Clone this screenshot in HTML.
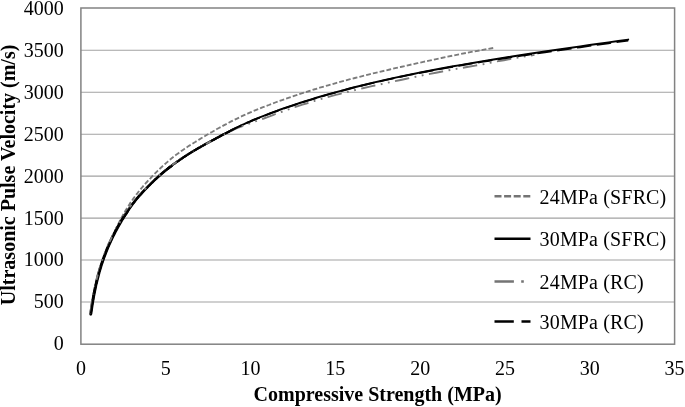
<!DOCTYPE html>
<html><head><meta charset="utf-8"><title>Ultrasonic Pulse Velocity vs Compressive Strength</title>
<style>
html,body{margin:0;padding:0;background:#fff}
svg{display:block}
text{font-family:"Liberation Serif","Times New Roman",serif;font-size:20px;fill:#000}
.b{font-weight:bold}
.lg text{letter-spacing:0.15px}
</style></head><body>
<svg width="685" height="407" viewBox="0 0 685 407">
<rect width="685" height="407" fill="#fff"/>
<g stroke="#a2a2a2" stroke-width="1.08" fill="none"><line x1="80.9" x2="674.6" y1="50.30" y2="50.30"/><line x1="80.9" x2="674.6" y1="92.25" y2="92.25"/><line x1="80.9" x2="674.6" y1="134.20" y2="134.20"/><line x1="80.9" x2="674.6" y1="176.15" y2="176.15"/><line x1="80.9" x2="674.6" y1="218.10" y2="218.10"/><line x1="80.9" x2="674.6" y1="260.05" y2="260.05"/><line x1="80.9" x2="674.6" y1="302.00" y2="302.00"/></g>
<rect x="80.9" y="8.0" width="593.7" height="336.2" fill="none" stroke="#828282" stroke-width="1.5"/>
<g fill="none" stroke-linejoin="round">
<path d="M90.6,315.8 L90.8,314.2 L91.0,312.7 L91.2,311.1 L91.3,309.6 L91.5,308.2 L91.7,306.7 L91.9,305.3 L92.1,303.9 L92.3,302.5 L92.5,301.2 L92.7,299.8 L92.9,298.5 L93.1,297.2 L93.3,296.0 L93.5,294.7 L93.7,293.5 L93.9,292.3 L94.1,291.1 L94.4,289.9 L94.6,288.7 L94.8,287.6 L95.1,286.5 L95.3,285.4 L95.6,284.2 L95.8,283.2 L96.1,282.1 L96.3,281.0 L96.6,280.0 L96.9,278.9 L97.1,277.9 L97.4,276.8 L97.7,275.8 L98.0,274.8 L98.3,273.8 L98.6,272.8 L98.9,271.8 L99.2,270.8 L99.5,269.8 L99.8,268.8 L100.2,267.8 L100.5,266.8 L100.8,265.8 L101.2,264.8 L101.5,263.8 L101.9,262.8 L102.2,261.8 L102.6,260.8 L103.0,259.8 L103.4,258.8 L103.8,257.7 L104.1,256.7 L104.6,255.7 L105.0,254.6 L105.4,253.6 L105.8,252.5 L106.2,251.4 L106.7,250.3 L107.1,249.3 L107.6,248.1 L108.0,247.0 L108.5,245.9 L109.0,244.7 L109.4,243.6 L109.9,242.4 L110.4,241.2 L110.9,240.0 L111.5,238.8 L112.0,237.6 L112.5,236.3 L113.1,235.1 L113.6,233.9 L114.2,232.6 L114.8,231.3 L115.3,230.1 L115.9,228.8 L116.5,227.5 L117.2,226.3 L117.8,225.0 L118.4,223.7 L119.1,222.4 L119.7,221.1 L120.4,219.8 L121.1,218.5 L121.8,217.2 L122.5,215.9 L123.2,214.6 L123.9,213.3 L124.7,212.1 L125.4,210.8 L126.2,209.5 L127.0,208.2 L127.8,206.9 L128.6,205.7 L129.4,204.4 L130.2,203.1 L131.1,201.8 L132.0,200.6 L132.9,199.3 L133.7,198.1 L134.7,196.8 L135.6,195.6 L136.5,194.3 L137.5,193.1 L138.5,191.8 L139.5,190.6 L140.5,189.4 L141.5,188.1 L142.6,186.9 L143.6,185.7 L144.7,184.4 L145.8,183.2 L146.9,182.0 L148.1,180.7 L149.2,179.5 L150.4,178.3 L151.6,177.0 L152.8,175.7 L154.1,174.5 L155.3,173.2 L156.6,171.9 L157.9,170.6 L159.3,169.3 L160.6,168.0 L162.0,166.7 L163.4,165.5 L164.8,164.2 L166.3,162.9 L167.8,161.6 L169.3,160.3 L170.8,159.0 L172.3,157.8 L173.9,156.5 L175.5,155.3 L177.2,154.1 L178.8,152.9 L180.5,151.6 L182.2,150.4 L184.0,149.2 L185.8,148.0 L187.6,146.8 L189.4,145.6 L191.3,144.4 L193.2,143.2 L195.2,142.0 L197.1,140.8 L199.1,139.6 L201.2,138.3 L203.3,137.1 L205.4,135.8 L207.5,134.5 L209.7,133.2 L212.0,132.0 L214.2,130.7 L216.5,129.3 L218.9,128.0 L221.3,126.7 L223.7,125.4 L226.2,124.1 L228.7,122.7 L231.2,121.4 L233.8,120.1 L236.5,118.8 L239.2,117.5 L241.9,116.2 L244.7,114.9 L247.5,113.7 L250.4,112.4 L253.3,111.1 L256.3,109.9 L259.3,108.7 L262.4,107.4 L265.6,106.2 L268.8,105.0 L272.0,103.7 L275.3,102.5 L278.7,101.3 L282.1,100.1 L285.6,98.8 L289.1,97.6 L292.7,96.4 L296.4,95.2 L300.1,93.9 L303.9,92.7 L307.8,91.5 L311.7,90.2 L315.7,89.0 L319.7,87.7 L323.9,86.5 L328.1,85.3 L332.4,84.1 L336.7,82.8 L341.1,81.6 L345.6,80.4 L350.2,79.2 L354.9,78.0 L359.6,76.8 L364.4,75.6 L369.3,74.3 L374.3,73.1 L379.4,71.9 L384.6,70.7 L389.8,69.5 L395.2,68.2 L400.6,67.0 L406.1,65.7 L411.8,64.4 L417.5,63.2 L423.3,61.9 L429.2,60.6 L435.2,59.3 L441.4,58.0 L447.6,56.7 L454.0,55.4 L460.4,54.1 L467.0,52.8 L473.7,51.5 L480.5,50.3 L487.4,49.0 L494.4,47.8" stroke="#7b7b7b" stroke-width="1.85" stroke-dasharray="4.85 2.1" stroke-dashoffset="1.21"/>
<path d="M90.8,313.7 L91.0,312.4 L91.2,311.0 L91.4,309.7 L91.6,308.4 L91.8,307.0 L92.0,305.7 L92.2,304.4 L92.4,303.1 L92.6,301.8 L92.8,300.6 L93.1,299.3 L93.3,298.0 L93.5,296.8 L93.7,295.5 L94.0,294.2 L94.2,293.0 L94.5,291.8 L94.7,290.5 L95.0,289.3 L95.2,288.1 L95.5,286.8 L95.7,285.6 L96.0,284.4 L96.3,283.2 L96.6,282.0 L96.9,280.8 L97.2,279.6 L97.5,278.4 L97.8,277.2 L98.1,276.0 L98.4,274.8 L98.7,273.7 L99.0,272.5 L99.4,271.3 L99.7,270.1 L100.1,269.0 L100.4,267.8 L100.8,266.6 L101.1,265.5 L101.5,264.3 L101.9,263.1 L102.3,262.0 L102.7,260.8 L103.1,259.6 L103.5,258.5 L103.9,257.3 L104.3,256.2 L104.8,255.0 L105.2,253.9 L105.6,252.7 L106.1,251.5 L106.6,250.4 L107.0,249.2 L107.5,248.0 L108.0,246.9 L108.5,245.7 L109.0,244.6 L109.5,243.4 L110.1,242.2 L110.6,241.0 L111.2,239.9 L111.7,238.7 L112.3,237.5 L112.9,236.3 L113.5,235.1 L114.1,234.0 L114.7,232.8 L115.3,231.6 L115.9,230.4 L116.6,229.2 L117.2,228.0 L117.9,226.8 L118.6,225.5 L119.3,224.3 L120.0,223.1 L120.7,221.9 L121.4,220.6 L122.2,219.4 L123.0,218.2 L123.7,216.9 L124.5,215.7 L125.3,214.4 L126.2,213.2 L127.0,211.9 L127.8,210.6 L128.7,209.4 L129.6,208.1 L130.5,206.8 L131.4,205.6 L132.3,204.3 L133.3,203.1 L134.3,201.8 L135.2,200.6 L136.2,199.3 L137.3,198.1 L138.3,196.8 L139.4,195.6 L140.5,194.4 L141.6,193.2 L142.7,192.0 L143.8,190.8 L145.0,189.5 L146.2,188.3 L147.4,187.1 L148.6,185.8 L149.9,184.6 L151.1,183.3 L152.4,182.1 L153.7,180.8 L155.1,179.5 L156.5,178.3 L157.9,177.0 L159.3,175.7 L160.7,174.4 L162.2,173.2 L163.7,171.9 L165.2,170.6 L166.8,169.4 L168.4,168.1 L170.0,166.9 L171.7,165.6 L173.3,164.3 L175.0,163.1 L176.8,161.8 L178.6,160.6 L180.4,159.3 L182.2,158.1 L184.1,156.8 L186.0,155.6 L187.9,154.3 L189.9,153.1 L191.9,151.9 L194.0,150.6 L196.1,149.4 L198.2,148.2 L200.4,146.9 L202.6,145.7 L204.8,144.4 L207.1,143.1 L209.5,141.9 L211.8,140.6 L214.3,139.3 L216.7,137.9 L219.2,136.6 L221.8,135.2 L224.4,133.9 L227.1,132.5 L229.8,131.1 L232.5,129.6 L235.3,128.2 L238.2,126.8 L241.1,125.5 L244.1,124.1 L247.1,122.7 L250.2,121.4 L253.3,120.0 L256.5,118.7 L259.7,117.4 L263.0,116.1 L266.4,114.8 L269.8,113.5 L273.3,112.2 L276.9,110.9 L280.5,109.5 L284.2,108.2 L288.0,106.9 L291.8,105.6 L295.7,104.3 L299.7,103.0 L303.7,101.7 L307.9,100.4 L312.1,99.1 L316.3,97.8 L320.7,96.5 L325.1,95.2 L329.6,93.9 L334.2,92.7 L338.9,91.4 L343.7,90.1 L348.6,88.8 L353.5,87.5 L358.6,86.2 L363.7,85.0 L368.9,83.7 L374.3,82.4 L379.7,81.2 L385.2,79.9 L390.9,78.7 L396.6,77.4 L402.4,76.2 L408.4,74.9 L414.5,73.7 L420.6,72.4 L426.9,71.2 L433.3,70.0 L439.8,68.8 L446.5,67.5 L453.3,66.3 L460.2,65.1 L467.2,63.9 L474.3,62.7 L481.6,61.4 L489.0,60.2 L496.6,59.0 L504.3,57.8 L512.1,56.5 L520.1,55.3 L528.2,54.0 L536.5,52.8 L544.9,51.5 L553.5,50.2 L562.3,49.0 L571.2,47.7 L580.2,46.4 L589.5,45.0 L598.9,43.7 L608.5,42.4 L618.3,41.0 L628.2,39.6" stroke="#000" stroke-width="1.95" stroke-linecap="round"/>
<path d="M90.8,313.8 L91.0,312.5 L91.2,311.1 L91.4,309.8 L91.6,308.5 L91.8,307.1 L92.0,305.8 L92.2,304.5 L92.4,303.2 L92.6,301.9 L92.8,300.7 L93.1,299.4 L93.3,298.1 L93.5,296.9 L93.7,295.6 L94.0,294.3 L94.2,293.1 L94.5,291.9 L94.7,290.6 L95.0,289.4 L95.2,288.2 L95.5,286.9 L95.7,285.7 L96.0,284.5 L96.3,283.3 L96.6,282.1 L96.9,280.9 L97.2,279.7 L97.5,278.5 L97.8,277.3 L98.1,276.1 L98.4,274.9 L98.7,273.8 L99.0,272.6 L99.4,271.4 L99.7,270.2 L100.1,269.1 L100.4,267.9 L100.8,266.7 L101.1,265.6 L101.5,264.4 L101.9,263.2 L102.3,262.1 L102.7,260.9 L103.1,259.7 L103.5,258.6 L103.9,257.4 L104.3,256.3 L104.8,255.1 L105.2,254.0 L105.6,252.8 L106.1,251.6 L106.6,250.5 L107.0,249.3 L107.5,248.1 L108.0,247.0 L108.5,245.8 L109.0,244.7 L109.5,243.5 L110.1,242.3 L110.6,241.1 L111.2,240.0 L111.7,238.8 L112.3,237.6 L112.9,236.4 L113.5,235.2 L114.1,234.1 L114.7,232.9 L115.3,231.7 L115.9,230.5 L116.6,229.3 L117.2,228.1 L117.9,226.9 L118.6,225.6 L119.3,224.4 L120.0,223.2 L120.7,222.0 L121.4,220.7 L122.2,219.5 L123.0,218.3 L123.7,217.0 L124.5,215.8 L125.3,214.5 L126.2,213.3 L127.0,212.0 L127.8,210.7" stroke="#000" stroke-width="3.00" stroke-linecap="round"/><path d="M124.5,215.8 L125.3,214.5 L126.2,213.3 L127.0,212.0 L127.8,210.7 L128.7,209.5 L129.6,208.2 L130.5,206.9 L131.4,205.7 L132.3,204.4 L133.3,203.2 L134.3,201.9 L135.2,200.7 L136.2,199.4 L137.3,198.2 L138.3,196.9 L139.4,195.7 L140.5,194.5 L141.6,193.3 L142.7,192.1 L143.8,190.9 L145.0,189.6 L146.2,188.4 L147.4,187.2 L148.6,185.9 L149.9,184.7 L151.1,183.4 L152.4,182.2 L153.7,180.9 L155.1,179.6 L156.5,178.4 L157.9,177.1 L159.3,175.8 L160.7,174.5 L162.2,173.3 L163.7,172.0 L165.2,170.7 L166.8,169.5 L168.4,168.2 L170.0,167.0 L171.7,165.7" stroke="#000" stroke-width="2.65" stroke-linecap="round"/><path d="M168.4,168.2 L170.0,167.0 L171.7,165.7 L173.3,164.4 L175.0,163.2 L176.8,161.9 L178.6,160.7 L180.4,159.4 L182.2,158.2 L184.1,156.9 L186.0,155.7 L187.9,154.4 L189.9,153.2 L191.9,152.0 L194.0,150.7 L196.1,149.5 L198.2,148.3 L200.4,147.0 L202.6,145.8 L204.8,144.5 L207.1,143.2 L209.5,142.0 L211.8,140.7 L214.3,139.4 L216.7,138.0 L219.2,136.7 L221.8,135.3 L224.4,134.0 L227.1,132.6 L229.8,131.2 L232.5,129.7" stroke="#000" stroke-width="2.35" stroke-linecap="round"/>
<path d="M90.1,313.7 L90.3,312.4 L90.5,311.2 L90.7,309.9 L90.9,308.6 L91.0,307.4 L91.2,306.1 L91.4,304.9 L91.6,303.6 L91.8,302.4 L92.0,301.2 L92.2,299.9 L92.4,298.7 L92.7,297.5 L92.9,296.3 L93.1,295.1 L93.3,293.9 L93.6,292.7 L93.8,291.6 L94.0,290.4 L94.3,289.2 L94.5,288.0 L94.8,286.9 L95.0,285.7 L95.3,284.6 L95.6,283.4 L95.8,282.3 L96.1,281.1 L96.4,280.0 L96.7,278.8 L96.9,277.7 L97.2,276.6 L97.5,275.4 L97.8,274.3 L98.2,273.2 L98.5,272.1 L98.8,271.0 L99.1,269.8 L99.4,268.7 L99.8,267.6 L100.1,266.5 L100.5,265.4 L100.8,264.3 L101.2,263.2 L101.6,262.1 L101.9,260.9 L102.3,259.8 L102.7,258.7 L103.1,257.6 L103.5,256.5 L103.9,255.4 L104.3,254.3 L104.8,253.2 L105.2,252.1 L105.6,251.0 L106.1,249.9 L106.5,248.8 L107.0,247.7 L107.5,246.6 L107.9,245.5 L108.4,244.3 L108.9,243.2 L109.4,242.1 L109.9,241.0 L110.5,239.9 L111.0,238.8 L111.5,237.6 L112.1,236.5 L112.6,235.4 L113.2,234.3 L113.8,233.1 L114.4,232.0 L115.0,230.8 L115.6,229.7 L116.2,228.6 L116.9,227.4 L117.5,226.3 L118.2,225.1 L118.8,223.9 L119.5,222.8 L120.2,221.6 L120.9,220.4 L121.6,219.2 L122.3,218.1 L123.1,216.9 L123.8,215.7 L124.6,214.5 L125.4,213.3 L126.2,212.1 L127.0,210.9 L127.8,209.7 L128.7,208.5 L129.5,207.3 L130.4,206.1 L131.3,204.9 L132.2,203.7 L133.1,202.5 L134.0,201.3 L135.0,200.1 L136.0,198.9 L137.0,197.7 L138.0,196.6 L139.0,195.4 L140.0,194.2 L141.1,193.1 L142.2,191.9 L143.3,190.8 L144.4,189.6 L145.5,188.4 L146.7,187.3 L147.9,186.1 L149.1,184.9 L150.3,183.7 L151.5,182.5 L152.8,181.3 L154.1,180.1 L155.4,178.8 L156.7,177.6 L158.1,176.4 L159.4,175.2 L160.8,174.0 L162.3,172.8 L163.7,171.6 L165.2,170.4 L166.7,169.2 L168.2,168.0 L169.8,166.8 L171.4,165.6 L173.0,164.4 L174.6,163.2 L176.3,162.0 L178.0,160.8 L179.8,159.6 L181.5,158.4 L183.3,157.2 L185.1,156.0 L187.0,154.8 L188.9,153.7 L190.8,152.5 L192.8,151.3 L194.8,150.1 L196.8,148.9 L198.9,147.8 L201.0,146.6 L203.1,145.4 L205.3,144.3 L207.5,143.1 L209.8,141.9 L212.0,140.7 L214.3,139.5 L216.7,138.3 L219.1,137.0 L221.5,135.7 L224.0,134.5 L226.5,133.2 L229.1,131.9 L231.7,130.6 L234.4,129.3 L237.1,128.1 L239.8,127.1 L242.6,126.0 L245.5,125.0 L248.4,123.9 L251.3,122.9 L254.3,121.8 L257.4,120.7 L260.5,119.6 L263.7,118.5 L266.9,117.3 L270.2,116.1 L273.5,114.8 L276.9,113.5 L280.4,112.3 L283.9,111.0 L287.5,109.7 L291.1,108.5 L294.8,107.2 L298.6,105.9 L302.4,104.7 L306.3,103.5 L310.3,102.2 L314.3,101.0 L318.5,99.8 L322.6,98.6 L326.9,97.3 L331.2,96.1 L335.7,94.9 L340.2,93.8 L344.7,92.6 L349.4,91.4 L354.1,90.3 L358.9,89.1 L363.8,88.0 L368.8,86.9 L373.9,85.7 L379.1,84.6 L384.3,83.4 L389.7,82.3 L395.1,81.1 L400.7,80.0 L406.3,78.8 L412.0,77.6 L417.9,76.3 L423.8,75.1 L429.9,73.9 L436.0,72.7 L442.3,71.5 L448.7,70.3 L455.1,69.1 L461.7,67.9 L468.5,66.8 L475.3,65.6 L482.3,64.4 L489.3,62.9 L496.5,61.5 L503.9,60.2 L511.3,58.9 L518.9,57.5 L526.6,56.2 L534.5,54.9" stroke="#7b7b7b" stroke-width="1.9" stroke-dasharray="14.5 5.5 1.8 5.5 1.8 5.5" stroke-dashoffset="0.35"/>
<path d="M90.8,313.7 L91.0,312.4 L91.2,311.0 L91.4,309.7 L91.6,308.4 L91.8,307.1 L92.0,305.7 L92.2,304.4 L92.4,303.1 L92.6,301.9 L92.8,300.6 L93.1,299.3 L93.3,298.0 L93.5,296.8 L93.7,295.5 L94.0,294.3 L94.2,293.0 L94.5,291.8 L94.7,290.5 L95.0,289.3 L95.2,288.1 L95.5,286.9 L95.7,285.6 L96.0,284.4 L96.3,283.2 L96.6,282.0 L96.9,280.8 L97.2,279.6 L97.5,278.4 L97.8,277.2 L98.1,276.1 L98.4,274.9 L98.7,273.7 L99.0,272.5 L99.4,271.3 L99.7,270.2 L100.1,269.0 L100.4,267.8 L100.8,266.7 L101.1,265.5 L101.5,264.3 L101.9,263.2 L102.3,262.0 L102.7,260.9 L103.1,259.7 L103.5,258.5 L103.9,257.4 L104.3,256.2 L104.8,255.1 L105.2,253.9 L105.6,252.8 L106.1,251.6 L106.6,250.4 L107.0,249.3 L107.5,248.1 L108.0,247.0 L108.5,245.8 L109.0,244.6 L109.5,243.5 L110.1,242.3 L110.6,241.1 L111.2,239.9 L111.7,238.8 L112.3,237.6 L112.9,236.4 L113.5,235.2 L114.1,234.1 L114.7,232.9 L115.3,231.7 L115.9,230.5 L116.6,229.3 L117.2,228.1 L117.9,226.9 L118.6,225.7 L119.3,224.4 L120.0,223.2 L120.7,222.0 L121.4,220.8 L122.2,219.5 L123.0,218.3 L123.7,217.0 L124.5,215.8 L125.3,214.5 L126.2,213.3 L127.0,212.0 L127.8,210.8 L128.7,209.5 L129.6,208.2 L130.5,207.0 L131.4,205.7 L132.3,204.5 L133.3,203.2 L134.3,202.0 L135.2,200.7 L136.2,199.5 L137.3,198.2 L138.3,197.0 L139.4,195.8 L140.5,194.6 L141.6,193.3 L142.7,192.1 L143.8,190.9 L145.0,189.7 L146.2,188.5 L147.4,187.2 L148.6,186.0 L149.9,184.7 L151.1,183.5 L152.4,182.2 L153.7,181.0 L155.1,179.7 L156.5,178.4 L157.9,177.1 L159.3,175.9 L160.7,174.6 L162.2,173.3 L163.7,172.1 L165.2,170.8 L166.8,169.5 L168.4,168.3 L170.0,167.0 L171.7,165.8 L173.3,164.5 L175.0,163.2 L176.8,162.0 L178.6,160.7 L180.4,159.5 L182.2,158.2 L184.1,157.0 L186.0,155.7 L187.9,154.5 L189.9,153.3 L191.9,152.0 L194.0,150.8 L196.1,149.6 L198.2,148.3 L200.4,147.1 L202.6,145.8 L204.8,144.6 L207.1,143.3 L209.5,142.0 L211.8,140.7 L214.3,139.4 L216.7,138.1 L219.2,136.8 L221.8,135.4 L224.4,134.0 L227.1,132.6 L229.8,131.2 L232.5,129.8 L235.3,128.4 L238.2,127.0 L241.1,125.6 L244.1,124.3 L247.1,122.9 L250.2,121.5 L253.3,120.2 L256.5,118.9 L259.7,117.6 L263.0,116.3 L266.4,114.9 L269.8,113.6 L273.3,112.3 L276.9,111.0 L280.5,109.7 L284.2,108.4 L288.0,107.1 L291.8,105.8 L295.7,104.5 L299.7,103.2 L303.7,101.9 L307.9,100.6 L312.1,99.3 L316.3,98.0 L320.7,96.7 L325.1,95.4 L329.6,94.1 L334.2,92.8 L338.9,91.6 L343.7,90.3 L348.6,89.0 L353.5,87.7 L358.6,86.4 L363.7,85.2 L368.9,83.9 L374.3,82.6 L379.7,81.4 L385.2,80.1 L390.9,78.9 L396.6,77.6 L402.4,76.4 L408.4,75.1 L414.5,73.9 L420.6,72.7 L426.9,71.5 L433.3,70.3 L439.8,69.1 L446.5,67.9 L453.3,66.7 L460.2,65.5 L467.2,64.3 L474.3,63.1 L481.6,61.9 L489.0,60.7 L496.6,59.5 L504.3,58.3 L512.1,57.1 L520.1,55.9 L528.2,54.7 L536.5,53.5 L544.9,52.2 L553.5,51.0 L562.3,49.7 L571.2,48.5 L580.2,47.2 L589.5,45.9 L598.9,44.6 L608.5,43.3 L618.3,41.9 L628.2,40.6" stroke="#000" stroke-width="1.9" stroke-dasharray="14.5 5.5" stroke-dashoffset="0.16"/>
</g>
<g fill="none" stroke-width="2.5">
<path d="M494.5,196.2 H530.5" stroke="#747474" stroke-dasharray="7 2.6"/>
<path d="M494.5,238.8 H530.5" stroke="#000"/>
<path d="M494.5,281.4 H530.5" stroke="#747474" stroke-dasharray="19.4 7.3 2.6 7 2.6 7"/>
<path d="M494.5,321.4 H530.5" stroke="#000" stroke-dasharray="19.3 7.7"/>
</g>
<g><text x="63.8" y="14.6" text-anchor="end">4000</text><text x="63.8" y="56.7" text-anchor="end">3500</text><text x="63.8" y="98.7" text-anchor="end">3000</text><text x="63.8" y="140.6" text-anchor="end">2500</text><text x="63.8" y="182.6" text-anchor="end">2000</text><text x="63.8" y="224.5" text-anchor="end">1500</text><text x="63.8" y="266.4" text-anchor="end">1000</text><text x="63.8" y="308.4" text-anchor="end">500</text><text x="63.8" y="350.4" text-anchor="end">0</text></g>
<g><text x="80.9" y="375" text-anchor="middle">0</text><text x="165.7" y="375" text-anchor="middle">5</text><text x="250.5" y="375" text-anchor="middle">10</text><text x="335.3" y="375" text-anchor="middle">15</text><text x="420.2" y="375" text-anchor="middle">20</text><text x="505.0" y="375" text-anchor="middle">25</text><text x="589.8" y="375" text-anchor="middle">30</text><text x="674.6" y="375" text-anchor="middle">35</text></g>
<g class="lg"><text x="539.6" y="203.8">24MPa (SFRC)</text><text x="539.6" y="246.0">30MPa (SFRC)</text><text x="539.6" y="288.5">24MPa (RC)</text><text x="539.6" y="328.5">30MPa (RC)</text></g>
<text class="b" x="377.6" y="401.1" text-anchor="middle">Compressive Strength (MPa)</text>
<text class="b" transform="translate(15.4,174.9) rotate(-90)" text-anchor="middle">Ultrasonic Pulse Velocity (m/s)</text>
</svg>
</body></html>
